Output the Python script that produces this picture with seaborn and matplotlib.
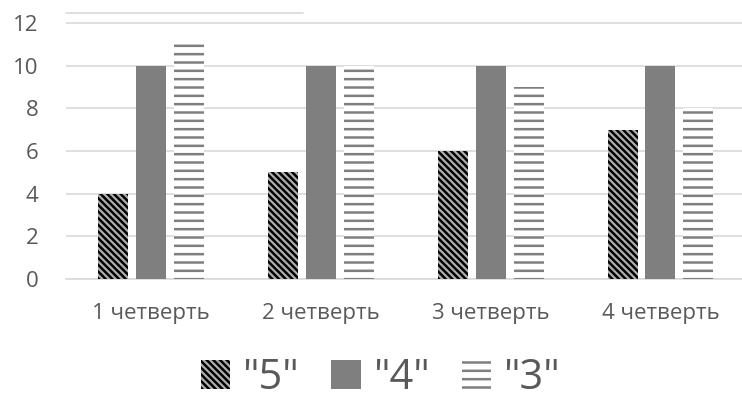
import numpy as np
import pandas as pd
import seaborn as sns
import matplotlib.pyplot as plt

quarters = ['1 четверть', '2 четверть', '3 четверть', '4 четверть']
grade5 = [4, 5, 6, 7]
grade4 = [10, 10, 10, 10]
grade3 = [11, 10, 9, 8]
series = ['"5"', '"4"', '"3"']

df = pd.DataFrame({
    'quarter': quarters * 3,
    'value': grade5 + grade4 + grade3,
    'grade': [s for s in series for _ in quarters],
})

sns.set_style('white')
plt.rcParams['font.family'] = ['Open Sans', 'DejaVu Sans']
plt.rcParams['hatch.linewidth'] = 1.8

fig = plt.figure(figsize=(7.42, 3.98), dpi=100)
ax = fig.add_axes([66 / 742, 0.299, 676 / 742, 0.670])

sns.barplot(data=df, x='quarter', y='value', hue='grade', hue_order=series,
            width=0.67, gap=0.21, ax=ax, legend=False, saturation=1)

styles = [
    dict(facecolor='#b0b0b0', edgecolor='black', hatch='\\\\\\\\\\', linewidth=0),
    dict(facecolor='#7f7f7f', edgecolor='#7f7f7f', hatch=None, linewidth=0),
    dict(facecolor='white', edgecolor='#7f7f7f', hatch='--', linewidth=0),
]
for cont, st in zip(ax.containers, styles):
    for p in cont:
        p.set_facecolor(st['facecolor'])
        p.set_edgecolor(st['edgecolor'])
        p.set_hatch(st['hatch'])
        p.set_linewidth(st['linewidth'])
        p.set_zorder(3)

ax.set_ylim(0, 12.5)
ax.set_xlim(-0.5, 3.48)
ax.set_yticks(np.arange(0, 13, 2))
ax.yaxis.grid(True, color='#d9d9d9', linewidth=1.2, zorder=0)
ax.set_axisbelow(True)
# stray line at the top of the plot area
ax.axhline(12.45, xmin=0, xmax=0.35, color='#d9d9d9', linewidth=1.2, clip_on=False)
for s in ['top', 'right', 'left']:
    ax.spines[s].set_visible(False)
ax.spines['bottom'].set_color('#d9d9d9')
ax.spines['bottom'].set_linewidth(1.2)
ax.tick_params(axis='y', length=0, pad=20, labelsize=16, labelcolor='#595959')
ax.tick_params(axis='x', length=0, pad=17, labelsize=16, labelcolor='#595959')
ax.set_xlabel('')
ax.set_ylabel('')

fig.legend(ax.containers, series, loc='center', bbox_to_anchor=(381 / 742, 1 - 378 / 398),
           ncol=3, frameon=False, fontsize=30, handlelength=0.7, handleheight=0.7,
           handletextpad=0.32, columnspacing=0.75, labelcolor='#595959')

fig.savefig('out.png', dpi=100)
